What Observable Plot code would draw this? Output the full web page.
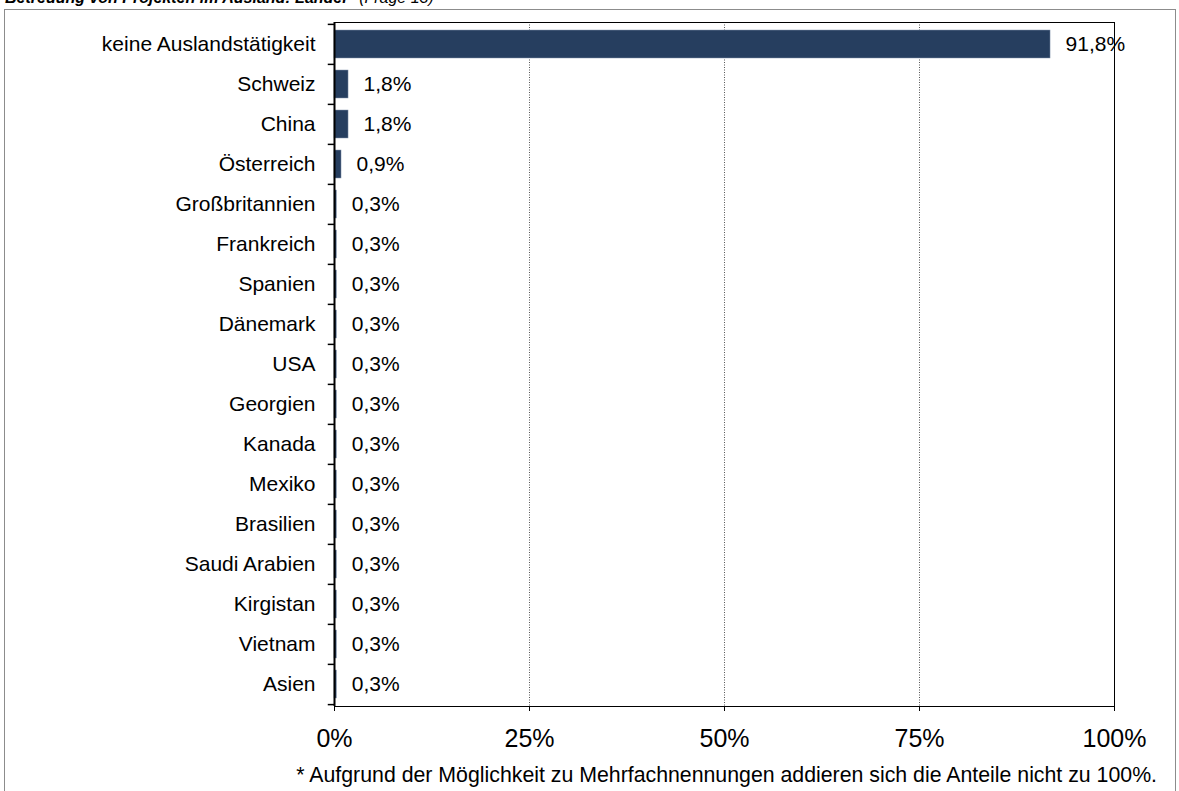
<!DOCTYPE html>
<html>
<head>
<meta charset="utf-8">
<script src="https://cdn.jsdelivr.net/npm/d3@7"></script>
<script src="https://cdn.jsdelivr.net/npm/@observablehq/plot@0.6"></script>
<style>
  html, body { margin: 0; padding: 0; background: #fff; overflow: hidden; }
  body { font-family: "Liberation Sans", Arial, sans-serif; }
  #wrap { position: relative; width: 1179px; height: 791px; }
  #frame { position: absolute; left: 4px; top: 9px; width: 1172px; height: 800px; border: 1px solid #8c8c8c; box-sizing: border-box; }
  #title { position: absolute; left: 5px; top: -10px; font-size: 16px; line-height: 16px; white-space: nowrap; color: #000; }
  #title b { font-weight: bold; font-style: italic; }
  #title i { font-style: italic; font-weight: normal; }
  #chart { position: absolute; left: 0; top: 0; }
  #caption { position: absolute; right: 22px; top: 764px; font-size: 21.3px; line-height: 22px; white-space: nowrap; color: #000; }
</style>
</head>
<body>
<div id="wrap">
  <div id="frame"></div>
  <div id="title"><b>Betreuung von Projekten im Ausland: Länder*</b> <i>(Frage 13)</i></div>
  <div id="chart"></div>
  <div id="caption">* Aufgrund der Möglichkeit zu Mehrfachnennungen addieren sich die Anteile nicht zu 100%.</div>
</div>
<script>
const categories = ["keine Auslandstätigkeit","Schweiz","China","Österreich","Großbritannien","Frankreich","Spanien","Dänemark","USA","Georgien","Kanada","Mexiko","Brasilien","Saudi Arabien","Kirgistan","Vietnam","Asien"];
const values = [0.918, 0.018, 0.018, 0.009, 0.003, 0.003, 0.003, 0.003, 0.003, 0.003, 0.003, 0.003, 0.003, 0.003, 0.003, 0.003, 0.003];
const xTicks = [0, 0.25, 0.5, 0.75, 1];
const xTickLabels = ["0%", "25%", "50%", "75%", "100%"];
const gridTicks = [0.25, 0.5, 0.75];

const data = categories.map((c, i) => ({category: c, value: values[i]}));
const fmt = v => (v * 100).toFixed(1).replace(".", ",") + "%";

const W = 1179, H = 791;
const mTop = 22, mBottom = 85, mLeft = 334, mRight = 65;
const step = (H - mTop - mBottom) / categories.length;

const chart = Plot.plot({
  width: W,
  height: H,
  marginTop: mTop,
  marginBottom: mBottom,
  marginLeft: mLeft,
  marginRight: mRight,
  style: {fontFamily: "'Liberation Sans', Arial, sans-serif", color: "#000", background: "transparent", overflow: "visible"},
  x: {domain: [0, 1]},
  y: {domain: categories, paddingInner: 0.3, paddingOuter: 0.15},
  marks: [
    Plot.ruleX(gridTicks, {stroke: "#555", strokeDasharray: "1,1.5", strokeWidth: 1}),
    Plot.barX(data, {y: "category", x: "value", fill: "#263e5f", stroke: "#8797ae", strokeWidth: 0.5}),
    Plot.frame({stroke: "#000", strokeWidth: 1}),
    Plot.ruleX([0], {stroke: "#000", strokeWidth: 2}),
    Plot.ruleY(categories, {y: d => d, x1: -0.008, x2: 0, dy: -step / 2, stroke: "#000", strokeWidth: 1.5, clip: false}),
    Plot.ruleY(categories.slice(-1), {y: d => d, x1: -0.008, x2: 0, dy: step / 2, stroke: "#000", strokeWidth: 1.5, clip: false}),
    Plot.text(data, {y: "category", x: "value", text: d => fmt(d.value), textAnchor: "start", dx: 15, fontSize: 21, fill: "#000"}),
    Plot.axisX({
      ticks: xTicks,
      tickFormat: (d) => xTickLabels[xTicks.indexOf(d)],
      tickSize: 5,
      tickPadding: 18,
      fontSize: 25,
      stroke: "#000",
      label: null
    }),
    Plot.axisY({
      tickSize: 0,
      tickPadding: 19,
      fontSize: 21,
      label: null
    })
  ]
});
document.getElementById("chart").appendChild(chart);
</script>
</body>
</html>
